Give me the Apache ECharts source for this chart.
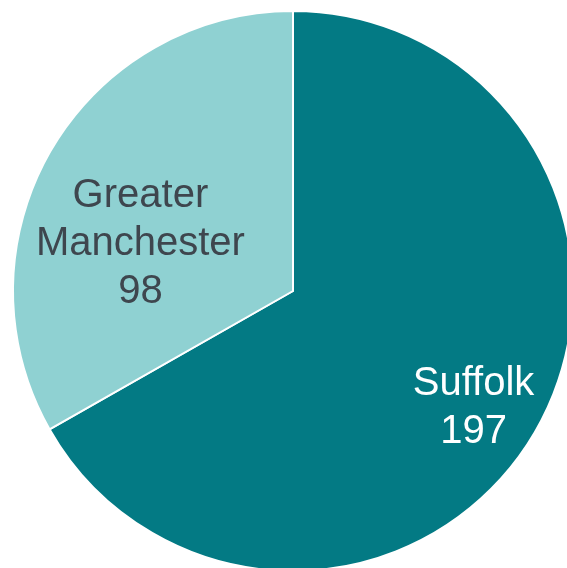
<!DOCTYPE html>
<html>
<head>
<meta charset="utf-8">
<script src="https://cdn.jsdelivr.net/npm/echarts@6/dist/echarts.min.js"></script>
<style>
html,body{margin:0;padding:0;background:#fff;}
#chart{width:567px;height:568px;}
</style>
</head>
<body>
<div id="chart"></div>
<script>
const categories = ['Suffolk', 'Greater\nManchester'];
const values = [197, 98];
const colors = ['#037A84', '#8FD1D2'];
const labelColors = ['#FFFFFF', '#3E464E'];
const labelShift = [[57, 45], [-29, 25]];

const chart = echarts.init(document.getElementById('chart'), null, {renderer: 'canvas'});
chart.setOption({
  animation: false,
  series: [{
    type: 'pie',
    center: [293, 291],
    radius: [0, 280],
    startAngle: 90,
    clockwise: true,
    silent: true,
    itemStyle: {borderColor: '#ffffff', borderWidth: 2},
    label: {
      show: true,
      position: 'inside',
      fontFamily: 'Liberation Sans, Arial, sans-serif',
      fontSize: 40,
      lineHeight: 48,
      align: 'center',
      formatter: p => p.name + '\n' + p.value
    },
    labelLine: {show: false},
    labelLayout: p => ({dx: labelShift[p.dataIndex][0], dy: labelShift[p.dataIndex][1]}),
    data: categories.map((c, i) => ({
      name: c,
      value: values[i],
      itemStyle: {color: colors[i]},
      label: {color: labelColors[i]}
    }))
  }]
});
</script>
</body>
</html>
